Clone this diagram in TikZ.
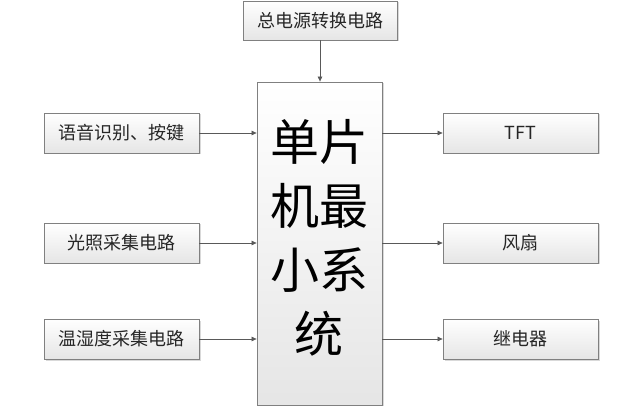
\documentclass[tikz,border=0pt]{standalone}
\usepackage{fontspec}
\newfontfamily\cjk{Noto Sans CJK SC}
\usetikzlibrary{arrows.meta,shadows}
\begin{document}
\begin{tikzpicture}[x=1pt,y=-1pt,
  blockbox/.style={draw=black!50, line width=0.8pt, top color=white, bottom color=black!10,
    drop shadow={shadow xshift=1.5pt, shadow yshift=-1.5pt, opacity=0.25, fill=black!60},
    minimum width=155pt, minimum height=40pt, inner sep=0pt,
    font=\cjk\fontsize{18}{18}\selectfont, text=black!85},
  link/.style={draw=black!65, line width=0.7pt, -{Triangle[length=5pt,width=4.5pt]}}]
\useasboundingbox (0,0) rectangle (632,406);

% central controller
\node[blockbox, minimum width=125pt, minimum height=323pt] (mcu) at (319.5,243.5) {};
\node[align=center, inner sep=0pt, font=\cjk\fontsize{49}{64}\selectfont] (mcutext)
  at (319,238) {单片\\机最\\小系\\统};

% power supply
\node[blockbox, minimum width=154pt, minimum height=39pt] (pwr) at (320,20.5) {总电源转换电路};

% inputs
\node[blockbox] (voice) at (121.5,133) {语音识别、按键};
\node[blockbox] (light) at (121.5,243) {光照采集电路};
\node[blockbox] (hum)   at (121.5,339) {温湿度采集电路};

% outputs
\node[blockbox] (tft)   at (520.5,133) {TFT};
\node[blockbox] (fan)   at (520.5,243) {风扇};
\node[blockbox] (relay) at (520.5,339) {继电器};

\draw[link] (pwr.south) -- (pwr.south |- mcu.north);
\foreach \n in {voice,light,hum}
  \draw[link] (\n.east) -- (\n.east -| mcu.west);
\foreach \n in {tft,fan,relay}
  \draw[link] (\n.west -| mcu.east) -- (\n.west);
\end{tikzpicture}
\end{document}
